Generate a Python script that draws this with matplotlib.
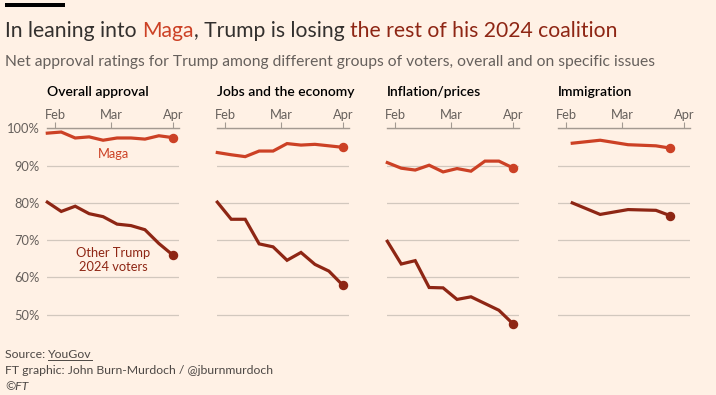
import matplotlib
matplotlib.use("Agg")
import matplotlib.pyplot as plt
import matplotlib.dates as mdates
import pandas as pd
from matplotlib import font_manager
from matplotlib.patches import Rectangle
from matplotlib.lines import Line2D

# ---------------- data ----------------
weekly_dates = ["2025-01-28", "2025-02-04", "2025-02-11", "2025-02-18", "2025-02-25",
                "2025-03-04", "2025-03-11", "2025-03-18", "2025-03-25", "2025-04-01"]
immigration_dates = ["2025-02-04", "2025-02-18", "2025-03-04", "2025-03-18", "2025-03-25"]

panel_titles = ["Overall approval", "Jobs and the economy", "Inflation/prices", "Immigration"]

maga_overall = [98.7, 99.0, 97.4, 97.7, 96.8, 97.4, 97.4, 97.1, 98.0, 97.5]
other_overall = [80.2, 77.7, 79.1, 77.1, 76.3, 74.3, 73.9, 72.8, 69.1, 66.0]
maga_jobs = [93.5, 92.9, 92.4, 93.9, 93.9, 95.9, 95.5, 95.7, 95.3, 94.9]
other_jobs = [80.2, 75.6, 75.6, 69.0, 68.2, 64.6, 66.7, 63.5, 61.7, 57.9]
maga_inflation = [90.8, 89.3, 88.8, 90.1, 88.3, 89.2, 88.5, 91.2, 91.2, 89.4]
other_inflation = [69.7, 63.6, 64.5, 57.3, 57.2, 54.1, 54.8, 53.0, 51.2, 47.6]
maga_immigration = [96.0, 96.8, 95.6, 95.3, 94.7]
other_immigration = [80.0, 76.9, 78.2, 78.0, 76.6]

y_ticks = [50, 60, 70, 80, 90, 100]
month_ticks = ["2025-02-01", "2025-03-01", "2025-04-01"]
month_labels = ["Feb", "Mar", "Apr"]

title_parts = ["In leaning into ", "Maga", ", Trump is losing ", "the rest of his 2024 coalition"]
subtitle = "Net approval ratings for Trump among different groups of voters, overall and on specific issues"
label_maga = "Maga"
label_other = "Other Trump\n2024 voters"

# ---------------- style ----------------
W, H = 716, 395
BG = "#FFF1E5"
MAGA = "#CC4125"
OTHER = "#8E2614"
DARK = "#33302E"
GREY = "#66605C"
AXIS = "#A39A92"
GRID = "#D2C8BE"

names = {f.name for f in font_manager.fontManager.ttflist}
BODY = "Lato" if "Lato" in names else "DejaVu Sans"
plt.rcParams["font.family"] = [BODY, "DejaVu Sans"]

fig = plt.figure(figsize=(W / 100, H / 100), dpi=100, facecolor=BG)
renderer = fig.canvas.get_renderer()


def fy(y):
    return 1 - y / H


def text_w(s, size, **kw):
    t = fig.text(0, 0, s, fontsize=size, **kw)
    w = t.get_window_extent(renderer).width
    t.remove()
    return w


def seg_offset(prefix, size, **kw):
    return text_w(prefix + "x", size, **kw) - text_w("x", size, **kw)


# top black bar
fig.patches.append(Rectangle((5 / W, fy(6.7)), 60 / W, 3.4 / H, transform=fig.transFigure,
                             facecolor="black", edgecolor="none"))

# title (multi-coloured), fitted to width
full_title = "".join(title_parts)
ts = 16.0
ts = ts * 612 / text_w(full_title, ts)
colors = [DARK, MAGA, DARK, OTHER]
prefix = ""
for part, c in zip(title_parts, colors):
    x0 = 5 + (seg_offset(prefix, ts) if prefix else 0)
    fig.text(x0 / W, fy(37.3), part, fontsize=ts, color=c, va="baseline", ha="left")
    prefix += part

# subtitle
ss = 11.0
ss = ss * 649 / text_w(subtitle, ss)
fig.text(5 / W, fy(65.7), subtitle, fontsize=ss, color=GREY, va="baseline", ha="left")

# panels
lefts = [47.3, 217.3, 387.3, 558.3]
ax_w = 131.5
y_top, y_bot = 128.3, 325.9
start = pd.Timestamp("2025-01-28")
end = pd.Timestamp("2025-04-04")

series = [
    (weekly_dates, maga_overall, other_overall),
    (weekly_dates, maga_jobs, other_jobs),
    (weekly_dates, maga_inflation, other_inflation),
    (immigration_dates, maga_immigration, other_immigration),
]

pts = 13.0
pts = pts * 101 / text_w(panel_titles[0], pts, weight="semibold")

axes = []
for i, (left, title, (dts, maga, other)) in enumerate(zip(lefts, panel_titles, series)):
    ax = fig.add_axes([left / W, fy(y_bot), ax_w / W, (y_bot - y_top) / H])
    ax.set_facecolor("none")
    ax.set_xlim(start, end)
    ax.set_ylim(47, 100)
    for s in ["left", "right", "bottom"]:
        ax.spines[s].set_visible(False)
    ax.spines["top"].set_color(AXIS)
    ax.spines["top"].set_linewidth(1.0)
    ax.xaxis.tick_top()
    ax.set_xticks(pd.to_datetime(month_ticks))
    ax.set_xticklabels(month_labels)
    ax.tick_params(axis="x", length=4, width=0.8, color=AXIS, labelsize=9.3,
                   labelcolor=GREY, pad=1.5)
    ax.set_yticks(y_ticks)
    ax.yaxis.grid(True, color=GRID, linewidth=0.9)
    ax.set_axisbelow(True)
    ax.tick_params(axis="y", length=0, pad=5.5, labelsize=9.3, labelcolor=GREY)
    if i == 0:
        ax.set_yticklabels([f"{v}%" for v in y_ticks])
    else:
        ax.set_yticklabels([])
    d = pd.to_datetime(dts)
    ax.plot(d, maga, color=MAGA, lw=2.3, solid_joinstyle="miter", clip_on=False, zorder=3)
    ax.plot(d[-1:], maga[-1:], "o", color=MAGA, ms=5.8, clip_on=False, zorder=4)
    ax.plot(d, other, color=OTHER, lw=2.3, solid_joinstyle="miter", clip_on=False, zorder=3)
    ax.plot(d[-1:], other[-1:], "o", color=OTHER, ms=5.8, clip_on=False, zorder=4)
    fig.text(left / W, fy(96), title, fontsize=pts, weight="semibold", color="black",
             va="baseline", ha="left")
    axes.append(ax)

# series labels in first panel
ax0 = axes[0]
ax0.text(pd.Timestamp("2025-03-02"), 93.1, label_maga, color=MAGA, fontsize=9.3,
         ha="center", va="center")
ax0.text(pd.Timestamp("2025-03-02"), 64.7, label_other, color=OTHER, fontsize=9.3,
         ha="center", va="center", linespacing=1.25)

# footer
fs = 8.6
fs = fs * 267 / text_w("FT graphic: John Burn-Murdoch / @jburnmurdoch", fs)
fig.text(5 / W, fy(357.7), "Source: ", fontsize=fs, color="#4D4845", va="baseline")
xo = 5 + seg_offset("Source: ", fs)
fig.text(xo / W, fy(357.7), "YouGov", fontsize=fs, color="#4D4845", va="baseline")
uw = text_w("YouGov", fs)
fig.lines.append(Line2D([xo / W, (xo + uw) / W], [fy(359.5), fy(359.5)],
                        transform=fig.transFigure, color="#4D4845", lw=0.7))
fig.text(5 / W, fy(373.7), "FT graphic: John Burn-Murdoch / @jburnmurdoch", fontsize=fs,
         color="#4D4845", va="baseline")
fig.text(5 / W, fy(389.7), "©FT", fontsize=fs, color="#4D4845", va="baseline", style="italic")

fig.savefig("out.png", dpi=100, facecolor=BG)
